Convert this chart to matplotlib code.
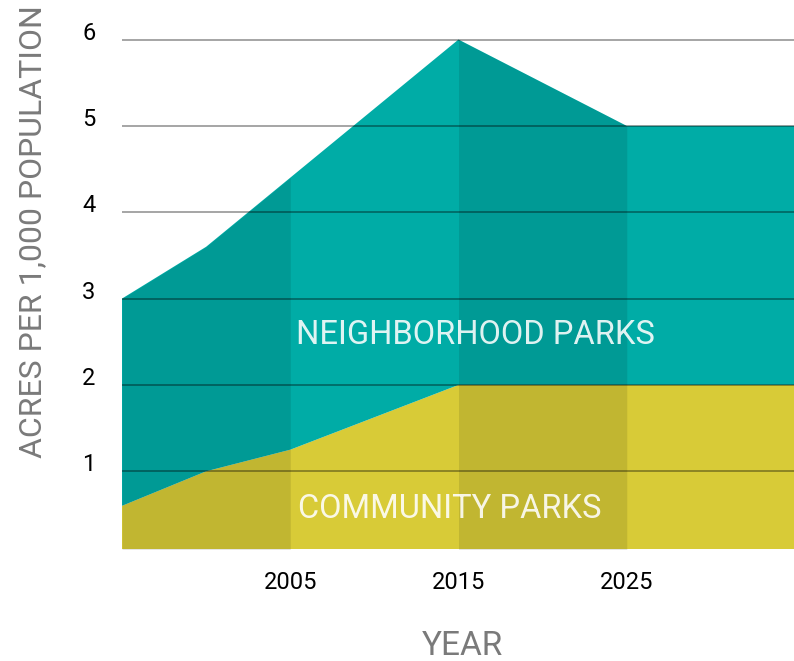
import matplotlib
matplotlib.use("Agg")
import matplotlib.pyplot as plt
import numpy as np

plt.rcParams['font.family'] = ['Roboto', 'DejaVu Sans']

# Data
years = [1995, 2000, 2005, 2015, 2025, 2035]
community = [0.6, 1.0, 1.25, 2.0, 2.0, 2.0]
total = [3.0, 3.6, 4.4, 6.0, 5.0, 5.0]
neighborhood = [t - c for t, c in zip(total, community)]
shaded_periods = [(1995, 2005), (2015, 2025)]
x_ticks = [2005, 2015, 2025]
x_ticklabels = ["2005", "2015", "2025"]
y_ticks = [1, 2, 3, 4, 5, 6]

teal = "#00ACA6"
yellow = "#D8CB37"

fig = plt.figure(figsize=(7.94, 6.61), dpi=100)
W, H = 794, 661
ax = fig.add_axes([122 / W, (H - 549) / H, (795 - 122) / W, (549 - 30.9) / H])

x = np.array(years, dtype=float)
ax.stackplot(x, community, neighborhood, colors=[yellow, teal], linewidth=0)

tot = np.array(total)
for a, b in shaded_periods:
    m = (x >= a) & (x <= b)
    ax.fill_between(x, 0, tot, where=m, color="black", alpha=0.10, linewidth=0)

ax.set_xlim(1995, 2035)
ax.set_ylim(0.1, 6.1)

ax.set_axisbelow(False)
ax.yaxis.grid(True, color="black", alpha=0.45, linewidth=1.1)
ax.xaxis.grid(False)

ax.set_xticks(x_ticks)
ax.set_xticklabels(x_ticklabels)
ax.set_yticks(y_ticks)
ax.set_yticklabels([str(v) for v in y_ticks])
for lab in ax.get_yticklabels():
    lab.set_va("baseline")
ax.tick_params(axis="both", length=0, labelsize=17, labelcolor="black")
ax.tick_params(axis="y", pad=19)
ax.tick_params(axis="x", pad=16)

for s in ax.spines.values():
    s.set_visible(False)

ax.text(2016.0, 2.58, "NEIGHBORHOOD PARKS", ha="center", va="center",
        fontsize=23.5, color="white", alpha=0.88)
ax.text(2014.5, 0.56, "COMMUNITY PARKS", ha="center", va="center",
        fontsize=23.5, color="white", alpha=0.88)

fig.text(33 / W, 1 - 232 / H, "ACRES PER 1,000 POPULATION", rotation=90,
         ha="center", va="center", fontsize=23, color="#7a7a7a")
fig.text(462 / W, 1 - 655 / H, "YEAR", ha="center", va="baseline",
         fontsize=24, color="#7a7a7a")

fig.savefig("out.png", dpi=100)
